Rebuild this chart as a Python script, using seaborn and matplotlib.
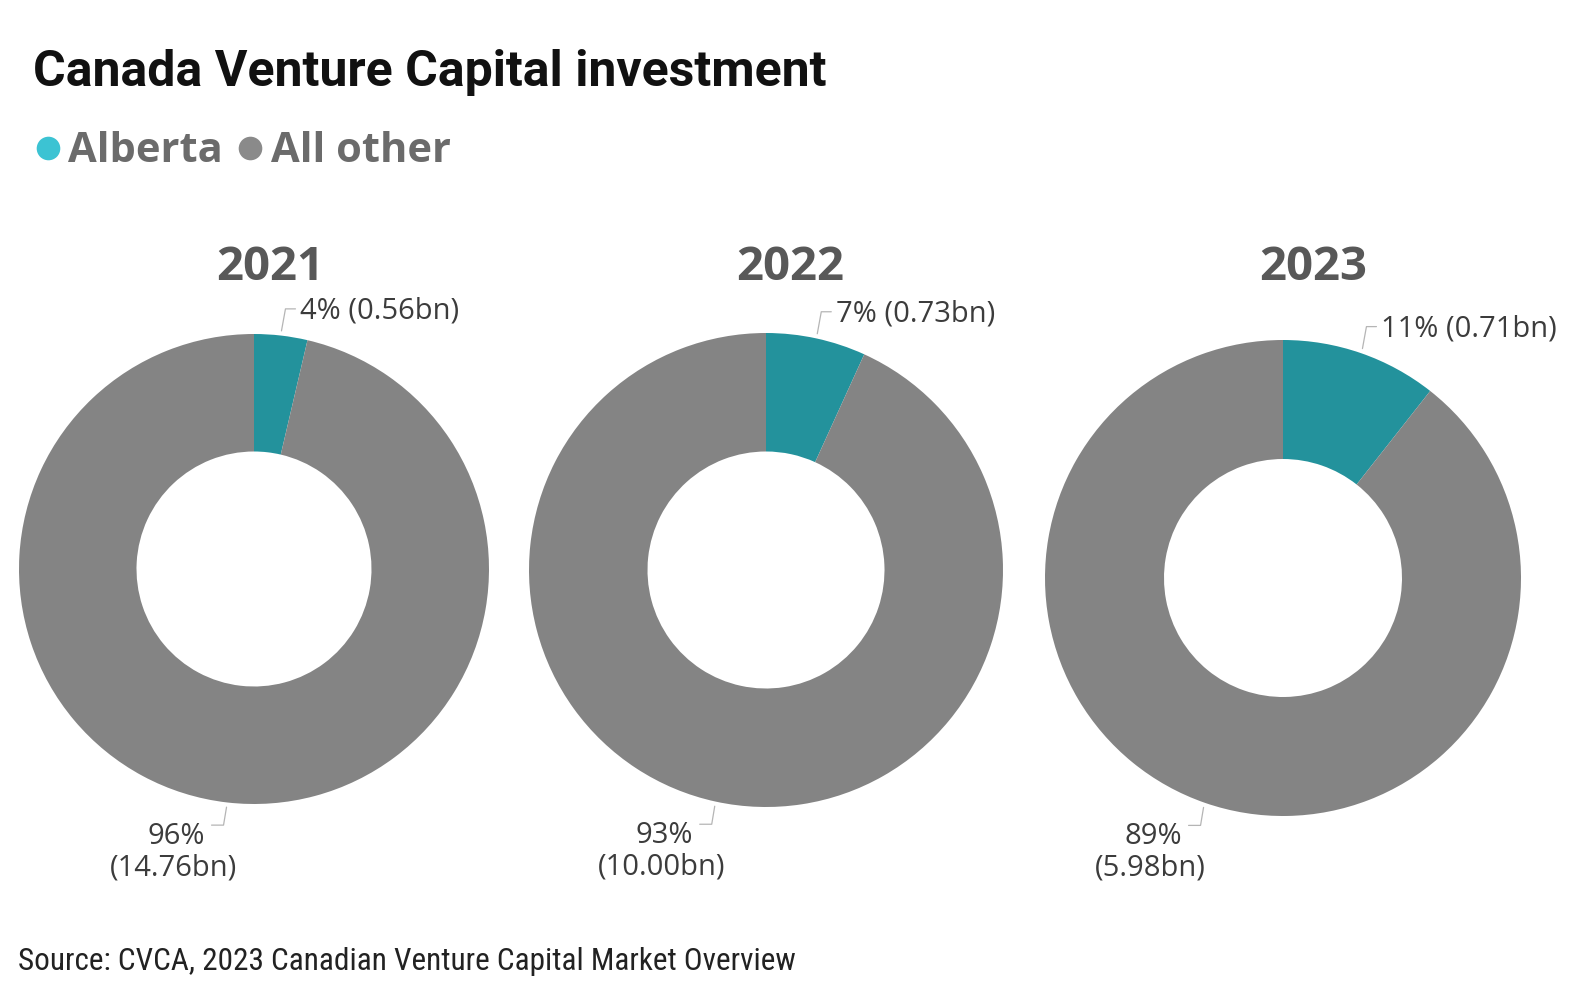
import numpy as np
import matplotlib.pyplot as plt
from matplotlib.lines import Line2D
import seaborn as sns

# Canada VC investment, Alberta vs rest of country (CAD bn)
years = ['2021', '2022', '2023']
alberta_bn = [0.56, 0.73, 0.71]
other_bn = [14.76, 10.00, 5.98]
alberta_pct = [4, 7, 11]
other_pct = [96, 93, 89]
series = ['Alberta', 'All other']

sns.set_theme(style='white')
plt.rcParams['font.family'] = ['Open Sans', 'DejaVu Sans']
narrow = ['Roboto Condensed', 'DejaVu Sans']

slice_colors = ['#23929c', '#848484']
dot_colors = ['#3cc3d3', '#8a8a8a']
label_color = '#3c3c3c'

W, H = 1581, 999
fig = plt.figure(figsize=(W / 100, H / 100), dpi=100)
ax = fig.add_axes([0, 0, 1, 1])

# donut layout in pixels (x, y from top, radius) and year title x
layout = [(254, 569, 235), (766, 570, 237), (1283, 578, 238)]
title_x = [270, 790, 1313]

for i, year in enumerate(years):
    cx, cy, r = layout[i]
    cy = H - cy
    vals = [alberta_bn[i], other_bn[i]]
    ax.pie(vals, colors=slice_colors, startangle=90, counterclock=False,
           center=(cx, cy), radius=r,
           wedgeprops=dict(width=r * 0.5, edgecolor='none'))

    ax.text(title_x[i], H - 280, year, ha='center', va='baseline',
            fontsize=34, fontweight='bold', color='#585858')

    share = vals[0] / sum(vals)
    # Alberta label, top right
    th = np.radians(share * 180)
    x0, y0 = cx + 1.02 * r * np.sin(th), cy + 1.02 * r * np.cos(th)
    x1, y1 = x0 + 4, y0 + 22
    ax.plot([x0, x1, x1 + 10], [y0, y1, y1], color='#b5b5b5', lw=0.9,
            clip_on=False)
    ax.text(x1 + 15, y1 - 10, f'{alberta_pct[i]}% ({alberta_bn[i]:.2f}bn)',
            ha='left', va='baseline', fontsize=21, color=label_color)

    # All other label, bottom left
    ph = np.radians(share * 360 + (1 - share) * 180)
    x0, y0 = cx + 1.02 * r * np.sin(ph), cy + 1.02 * r * np.cos(ph)
    x1, y1 = x0 - 3, y0 - 18
    ax.plot([x0, x1, x1 - 12], [y0, y1, y1], color='#b5b5b5', lw=0.9,
            clip_on=False)
    ax.text(x1 - 47, y1 - 19, f'{other_pct[i]}%', ha='center',
            va='baseline', fontsize=21, color=label_color)
    ax.text(x1 - 50, y1 - 50, f'({other_bn[i]:.2f}bn)', ha='center',
            va='baseline', fontsize=21, color=label_color)

ax.set_xlim(0, W)
ax.set_ylim(0, H)
ax.set_aspect('equal')
ax.axis('off')

fig.text(33 / W, 1 - 86 / H, 'Canada Venture Capital investment',
         ha='left', va='baseline', fontsize=36, fontweight='bold',
         color='#111111', family=['Roboto', 'DejaVu Sans'])

handles = [Line2D([], [], marker='o', ls='none', markersize=17,
                  markerfacecolor=c, markeredgecolor='none') for c in dot_colors]
fig.legend(handles, series, loc='center left',
           bbox_to_anchor=(33 / W, 1 - 152 / H), frameon=False, ncol=2,
           handlelength=0.7, handletextpad=0.15, columnspacing=0.3,
           borderaxespad=0, borderpad=0, labelcolor='#6b6b6b',
           prop=dict(family='Open Sans', weight='bold', size=30))

fig.text(18 / W, 1 - 970 / H,
         'Source: CVCA, 2023 Canadian Venture Capital Market Overview',
         ha='left', va='baseline', fontsize=22.5, color='#222222',
         family=narrow)

fig.savefig('out.png', dpi=100, facecolor='white')
